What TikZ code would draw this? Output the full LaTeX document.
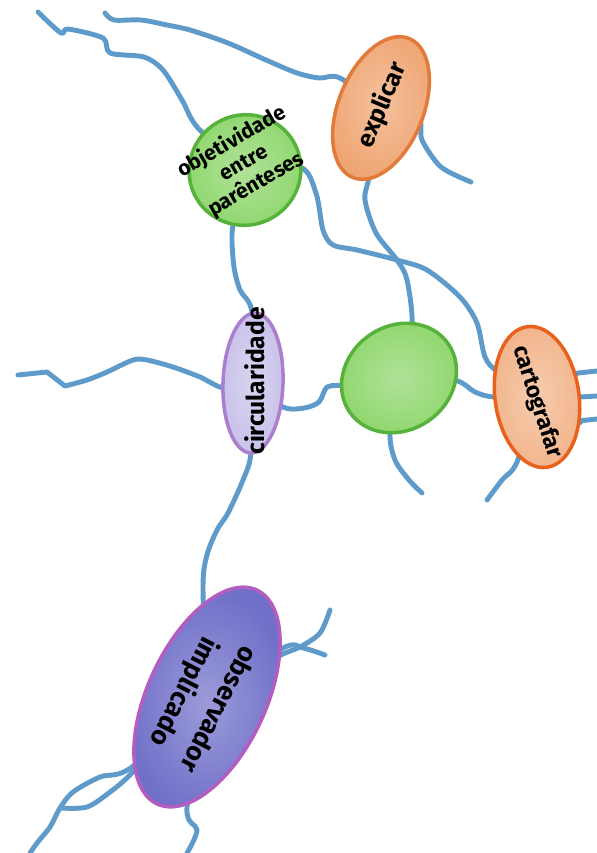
\documentclass[tikz,border=0pt]{standalone}
\usepackage{fontspec}
\setmainfont{Fira Sans}
\usetikzlibrary{shapes.geometric,backgrounds}

\definecolor{linkblue}{RGB}{94,155,203}
\definecolor{orangefill}{RGB}{239,166,116}
\definecolor{orangeline}{RGB}{226,122,58}
\definecolor{greenfill}{RGB}{142,214,108}
\definecolor{greenline}{RGB}{86,178,58}
\definecolor{lilacfill}{RGB}{201,194,234}
\definecolor{lilacline}{RGB}{170,128,206}
\definecolor{peachfill}{RGB}{242,181,140}
\definecolor{redline}{RGB}{232,98,30}
\definecolor{bluefill}{RGB}{112,112,201}
\definecolor{violetline}{RGB}{180,93,192}

\begin{document}
\begin{tikzpicture}[x=0.02cm, y=-0.02cm,
    blob/.style={draw, ellipse, inner sep=0pt, line width=2pt},
    crayon/.style={inner color=#1!70!white, outer color=#1},
    word/.style={inner sep=0pt, align=center, font=\bfseries\fontsize{13}{13}\selectfont},
    link/.style={draw=linkblue, line width=2.8pt, line cap=round, line join=round}]

    \useasboundingbox (0,0) rectangle (597,853);

    % blobs
    \node[blob, crayon=orangefill, draw=orangeline, minimum width=3cm, minimum height=1.7cm, rotate=68] (explicar) at (381,108) {};
    \node[blob, crayon=greenfill, draw=greenline, minimum width=2.25cm, minimum height=2.2cm, rotate=30] (objetividade) at (245,170) {};
    \node[blob, crayon=lilacfill, draw=lilacline, minimum width=2.8cm, minimum height=1.2cm, rotate=88] (circularidade) at (253,383) {};
    \node[blob, crayon=greenfill, draw=greenline, minimum width=2.4cm, minimum height=2.08cm, rotate=35] (verde) at (399,378) {};
    \node[blob, crayon=peachfill, draw=redline, minimum width=2.84cm, minimum height=1.68cm, rotate=-82] (cartografar) at (537,397) {};
    \node[blob, crayon=bluefill, draw=violetline, minimum width=4.72cm, minimum height=2.36cm, rotate=-115] (observador) at (207,697) {};

    % texts
    \node[word, rotate=67, font=\bfseries\fontsize{14}{14}\selectfont] (explicar-t) at (382,105) {explicar};
    \node[word, rotate=30, font=\bfseries\fontsize{12}{14}\selectfont] (objetividade-t) at (244,163) {objetividade\\entre\\parênteses};
    \node[word, rotate=90, font=\bfseries\fontsize{14}{14}\selectfont] (circularidade-t) at (255,381) {circularidade};
    \node[word, rotate=-72] (cartografar-t) at (537,402) {cartografar};
    \node[word, rotate=-117, font=\bfseries\fontsize{15}{22}\selectfont] (observador-t) at (200,700) {observador\\implicado};

    \coordinate (topA) at (38,12);
    \coordinate (topB) at (105,13);
    \coordinate (explR) at (471,182);
    \coordinate (leftC) at (18,375);
    \coordinate (verdeB) at (422,493);
    \coordinate (cartoB) at (487,500);
    \coordinate (edge1) at (597,371);
    \coordinate (edge2) at (597,396);
    \coordinate (edge3) at (597,419);
    \coordinate (obsR1) at (330,610);
    \coordinate (obsR2) at (325,655);
    \coordinate (obsL) at (30,853);
    \coordinate (obsB) at (187,853);

    \begin{scope}[on background layer]
    \draw[link] plot[smooth, tension=0.5] coordinates {(objetividade) (198,128) (182,100) (163,70) (144,57) (110,53) (103,38) (68,29) (61,33) (topA)};
    \draw[link] plot[smooth, tension=0.5] coordinates {(explicar) (340,78) (319,78) (297,73) (266,60) (228,43) (190,30) (167,25) (141,20) (114,20) (topB)};
    \draw[link] plot[smooth] coordinates {(explicar) (418,117) (422,140) (441,167) (explR)};
    \draw[link] plot[smooth] coordinates {(explicar) (369,177) (365,200) (376,233) (397,260) (407,280) (412,327) (verde)};
    \draw[link] plot[smooth] coordinates {(objetividade) (236,208) (232,235) (234,267) (240,290) (252,312) (circularidade)};
    \draw[link] plot[smooth, tension=0.5] coordinates {(objetividade) (300,167) (316,193) (323,230) (333,245) (357,250) (397,260) (427,270) (460,297) (477,323) (485,357) (498,372) (cartografar)};
    \draw[link] plot[smooth, tension=0.5] coordinates {(circularidade) (224,388) (200,377) (173,367) (147,360) (133,360) (107,372) (87,380) (65,386)} -- (47,372) -- (leftC);
    \draw[link] plot[smooth] coordinates {(circularidade) (283,407) (304,408) (319,402) (327,387) (342,385) (verde)};
    \draw[link] plot[smooth] coordinates {(verde) (454,380) (475,392) (494,397) (cartografar)};
    \draw[link] plot[smooth] coordinates {(verde) (390,432) (395,460) (409,480) (verdeB)};
    \draw[link] plot[smooth] coordinates {(cartografar) (517,462) (502,480) (cartoB)};
    \draw[link] (cartografar) -- (578,373) -- (edge1);
    \draw[link] (cartografar) -- (580,397) -- (edge2);
    \draw[link] (cartografar) -- (578,421) -- (edge3);
    \draw[link] plot[smooth] coordinates {(circularidade) (251,453) (243,480) (228,513) (217,530) (207,555) (203,588) (observador)};
    \draw[link] plot[smooth] coordinates {(observador) (277,657) (300,647) (320,633) (obsR1)};
    \draw[link] plot[smooth] coordinates {(observador) (283,648) (303,648) (obsR2)};
    \draw[link] plot[smooth] coordinates {(observador) (132,767) (100,777) (73,792) (60,808) (50,827) (37,843) (obsL)};
    \draw[link] plot[smooth] coordinates {(observador) (132,773) (110,792) (87,807) (60,808)};
    \draw[link] plot[smooth] coordinates {(observador) (187,807) (197,830) (obsB)};
    \end{scope}

\end{tikzpicture}
\end{document}
